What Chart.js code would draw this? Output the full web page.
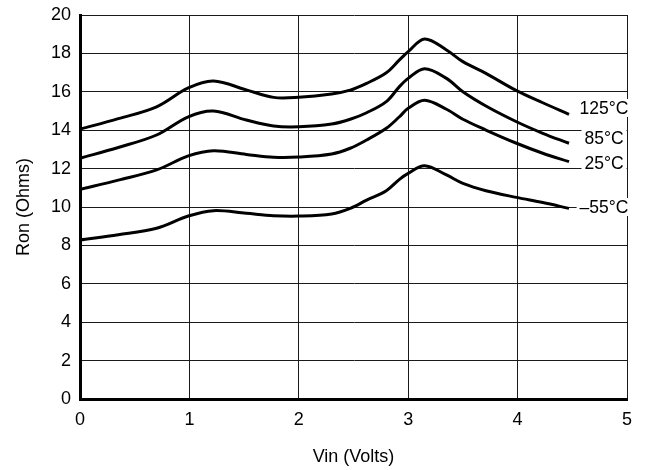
<!DOCTYPE html>
<html>
<head>
<meta charset="utf-8">
<script src="https://cdn.jsdelivr.net/npm/chart.js@4/dist/chart.umd.min.js"></script>
<style>
  html, body { margin: 0; padding: 0; background: #fff; }
  #wrap { width: 647px; height: 470px; }
</style>
</head>
<body>
<div id="wrap"><canvas id="ronChart" width="647" height="470"></canvas></div>
<script>
// ---- DATA ----
const vin = [0, 0.35, 0.7, 0.99, 1.22, 1.52, 1.77, 2.0, 2.3, 2.47, 2.62, 2.8, 2.92, 3.0, 3.15, 3.35, 3.5, 3.71, 3.99, 4.23, 4.47];
const ron125 = [14.05, 14.6, 15.22, 16.2, 16.56, 16.1, 15.71, 15.72, 15.89, 16.09, 16.44, 16.99, 17.66, 18.09, 18.75, 18.18, 17.57, 16.96, 16.06, 15.43, 14.83];
const ron85 = [12.54, 13.1, 13.75, 14.7, 15.0, 14.53, 14.22, 14.18, 14.32, 14.57, 14.91, 15.49, 16.27, 16.7, 17.2, 16.7, 16.0, 15.26, 14.44, 13.84, 13.32];
const ron25 = [10.92, 11.4, 11.93, 12.66, 12.93, 12.74, 12.59, 12.6, 12.76, 13.06, 13.49, 14.1, 14.7, 15.14, 15.56, 15.09, 14.57, 14.01, 13.32, 12.8, 12.36];
const ronM55 = [8.28, 8.55, 8.89, 9.53, 9.81, 9.67, 9.55, 9.53, 9.64, 9.93, 10.36, 10.85, 11.44, 11.75, 12.15, 11.67, 11.23, 10.85, 10.5, 10.23, 9.93];

const curveLabels = ['125°C', '85°C', '25°C', '\u201355°C'];
const labelX = [4.79, 4.79, 4.79, 4.79];
const labelY = [15.16, 13.59, 12.29, 10.0];

const xTicks = [0, 1, 2, 3, 4, 5];
const yTicks = [0, 2, 4, 6, 8, 10, 12, 14, 16, 18, 20];

const FONT = '"Liberation Sans Narrow", "Liberation Sans", Arial, sans-serif';

function toPoints(ys) {
    return ys.map((y, i) => ({ x: vin[i], y: y }));
}

// text labels at the right end of each curve, on a white patch
const curveLabelPlugin = {
    id: 'curveLabels',
    afterDraw(chart) {
        const ctx = chart.ctx;
        const xs = chart.scales.x;
        const ys = chart.scales.y;
        ctx.save();
        ctx.font = '17.5px ' + FONT;
        ctx.textAlign = 'center';
        ctx.textBaseline = 'middle';
        for (let i = 0; i < curveLabels.length; i++) {
            const px = xs.getPixelForValue(labelX[i]);
            const py = ys.getPixelForValue(labelY[i]);
            const w = ctx.measureText(curveLabels[i]).width;
            ctx.fillStyle = '#fff';
            ctx.fillRect(px - w / 2 - 3, py - 9, w + 6, 18);
            ctx.fillStyle = '#000';
            ctx.fillText(curveLabels[i], px, py + 1);
        }
        ctx.restore();
    }
};

const lineStyle = {
    borderColor: '#000',
    borderWidth: 3,
    pointRadius: 0,
    fill: false,
    tension: 0.35
};

new Chart(document.getElementById('ronChart'), {
    type: 'line',
    data: {
        datasets: [
            Object.assign({ label: '125°C', data: toPoints(ron125) }, lineStyle),
            Object.assign({ label: '85°C', data: toPoints(ron85) }, lineStyle),
            Object.assign({ label: '25°C', data: toPoints(ron25) }, lineStyle),
            Object.assign({ label: '-55°C', data: toPoints(ronM55) }, lineStyle)
        ]
    },
    options: {
        responsive: false,
        animation: false,
        devicePixelRatio: 1,
        layout: { padding: { left: 0, right: 20, top: 15, bottom: 0 } },
        plugins: {
            legend: { display: false },
            tooltip: { enabled: false }
        },
        scales: {
            x: {
                type: 'linear',
                min: 0,
                max: 5,
                afterBuildTicks: (scale) => { scale.ticks = xTicks.map(v => ({ value: v })); },
                afterFit: (scale) => {
                    scale.height = 71;
                    scale.paddingLeft = 0;
                    scale.paddingRight = 0;
                },
                grid: { color: '#1a1a1a', lineWidth: 1, drawTicks: false },
                border: { display: true, color: '#000', width: 3 },
                ticks: { color: '#000', padding: 10, font: { family: FONT, size: 18 } },
                title: {
                    display: true,
                    text: 'Vin (Volts)',
                    color: '#000',
                    font: { family: FONT, size: 18 },
                    padding: { top: 2, bottom: 2 }
                }
            },
            y: {
                min: 0,
                max: 20,
                afterBuildTicks: (scale) => { scale.ticks = yTicks.map(v => ({ value: v })); },
                afterFit: (scale) => {
                    scale.width = 80;
                    scale.paddingTop = 0;
                    scale.paddingBottom = 0;
                },
                grid: { color: '#1a1a1a', lineWidth: 1, drawTicks: false },
                border: { display: true, color: '#000', width: 3 },
                ticks: { color: '#000', padding: 9, font: { family: FONT, size: 18 } },
                title: {
                    display: true,
                    text: 'Ron (Ohms)',
                    color: '#000',
                    font: { family: FONT, size: 18 },
                    padding: { top: 13, bottom: 13 }
                }
            }
        }
    },
    plugins: [curveLabelPlugin]
});
</script>
</body>
</html>
